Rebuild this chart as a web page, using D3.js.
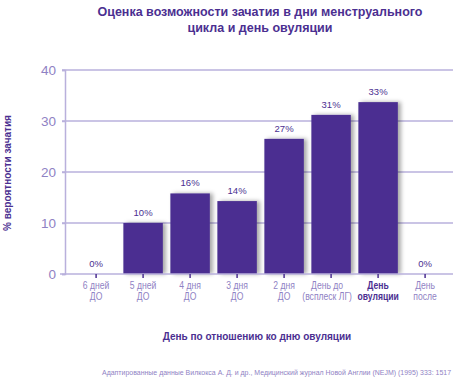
<!DOCTYPE html>
<html><head><meta charset="utf-8">
<script src="https://cdn.jsdelivr.net/npm/d3@7/dist/d3.min.js"></script>
<style>
body{margin:0;background:#fff;font-family:Arial,"Liberation Sans",sans-serif;}
</style></head>
<body>
<svg id="c" width="462" height="379"></svg>
<script>
const categories = [["6 дней","ДО"],["5 дней","ДО"],["4 дня","ДО"],["3 дня","ДО"],["2 дня","ДО"],["День до","(всплеск ЛГ)"],["День","овуляции"],["День","после"]];
const values = [0, 10, 15.8, 14.3, 26.5, 31.2, 33.7, 0];
const valueLabels = ["0%","10%","16%","14%","27%","31%","33%","0%"];
const yTicks = [0, 10, 20, 30, 40];
const highlightIndex = 6;
const title = ["Оценка возможности зачатия в дни менструального","цикла и день овуляции"];
const yTitle = "% вероятности зачатия";
const xTitle = "День по отношению ко дню овуляции";
const source = "Адаптированные данные Вилкокса А. Д. и др., Медицинский журнал Новой Англии (NEJM)  (1995) 333: 1517";

const dark = "#4b2f91", light = "#8f82c4", gridC = "#b9b0dc";
const svg = d3.select("#c");
const defs = svg.append("defs");
const f = defs.append("filter").attr("id","sh").attr("x","-10%").attr("y","-10%").attr("width","140%").attr("height","130%");
f.append("feDropShadow").attr("dx",3).attr("dy",0).attr("stdDeviation",2).attr("flood-color","#000").attr("flood-opacity",0.35);

const x = d3.scaleBand().domain(d3.range(categories.length)).range([72.6, 448.6]).paddingInner(0.16).paddingOuter(0.08);
const y = d3.scaleLinear().domain([0,40]).range([274, 70]);

// grid
svg.append("g").selectAll("line").data(yTicks.filter(d=>d>0)).join("line")
  .attr("x1",62).attr("x2",453).attr("y1",d=>y(d)).attr("y2",d=>y(d))
  .attr("stroke",gridC).attr("stroke-width",1.5);
// y axis
const ya = svg.append("g").attr("transform","translate(65,0)").call(d3.axisLeft(y).tickValues(yTicks).tickSize(3).tickPadding(6));
ya.select(".domain").attr("stroke",gridC).attr("stroke-width",1.5);
ya.selectAll(".tick line").attr("stroke",gridC).attr("stroke-width",1.5);
ya.selectAll("text").attr("fill",light).attr("font-size",13.5).attr("font-family","Arial, Liberation Sans, sans-serif");

// bars
svg.append("g").selectAll("rect").data(values).join("rect")
  .attr("x",(d,i)=>x(i)).attr("width",x.bandwidth())
  .attr("y",d=>y(d)).attr("height",d=>y(0)-y(d))
  .attr("fill",dark).attr("filter","url(#sh)");

// x axis
const xa = svg.append("g").attr("transform","translate(0,274)").call(d3.axisBottom(x).tickSize(4).tickFormat(""));
xa.select(".domain").attr("stroke",gridC).attr("stroke-width",1.5).attr("d","M60,0H453");
xa.selectAll(".tick line").attr("stroke",dark).attr("stroke-width",1.5);
xa.selectAll(".tick").each(function(d){
  const g = d3.select(this).append("g").attr("transform", d===5 ? "translate(-4,0) scale(0.86,1)" : "scale(0.86,1)");
  const t = g.append("text").attr("text-anchor","middle")
    .attr("fill", d===highlightIndex?dark:light).attr("font-size",10)
    .attr("font-family","Arial, Liberation Sans, sans-serif")
    .attr("font-weight", d===highlightIndex?"bold":"normal");
  categories[d].forEach((s,k)=>t.append("tspan").attr("x",0).attr("y",15.5+k*11).text(s));
});

// value labels
svg.append("g").selectAll("text").data(values).join("text")
  .attr("x",(d,i)=>x(i)+x.bandwidth()/2).attr("y",d=>y(d)-7)
  .attr("text-anchor","middle").attr("fill",dark).attr("font-size",9.5)
  .text((d,i)=>valueLabels[i]);

// titles
const tt = svg.append("text").attr("text-anchor","middle").attr("fill",dark).attr("font-size",12.5).attr("font-weight","bold");
title.forEach((s,k)=>tt.append("tspan").attr("x",260).attr("y",16+k*16).text(s));
svg.append("text").attr("transform","translate(11,173) rotate(-90)").attr("text-anchor","middle")
  .attr("fill",dark).attr("font-size",10).attr("font-weight","bold").text(yTitle);
svg.append("text").attr("x",257).attr("y",339.5).attr("text-anchor","middle")
  .attr("fill",dark).attr("font-size",10).attr("font-weight","bold").text(xTitle);
svg.append("text").attr("x",451).attr("y",375).attr("text-anchor","end")
  .attr("fill",light).attr("font-size",7.2).attr("textLength",349).attr("lengthAdjust","spacingAndGlyphs").text(source);
</script>
</body></html>
